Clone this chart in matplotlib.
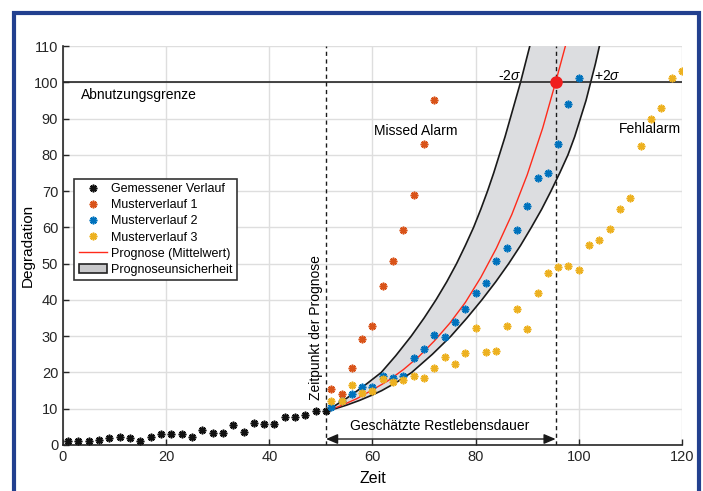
import matplotlib
matplotlib.use('Agg')
import matplotlib.pyplot as plt
from matplotlib.patches import Rectangle, Patch
from matplotlib.lines import Line2D

plt.rcParams['font.family'] = ['Liberation Sans', 'DejaVu Sans']
plt.rcParams['mathtext.fontset'] = 'custom'
plt.rcParams['mathtext.rm'] = 'Liberation Sans'
plt.rcParams['mathtext.it'] = 'Liberation Sans:italic'

# gemessener Verlauf
t_mess = [1, 3, 5, 7, 9, 11, 13, 15, 17, 19, 21, 23, 25, 27, 29, 31, 33, 35, 37, 39, 41, 43, 45, 47, 49, 51]
d_mess = [1.0, 1.0, 1.0, 1.4, 1.8, 2.1, 1.85, 1.1, 2.2, 3.0, 3.0, 2.9, 2.2, 4.0, 3.3, 3.3,
          5.6, 3.6, 6.1, 5.8, 5.8, 7.8, 7.7, 8.4, 9.3, 9.3]

# Musterverlaeufe
t_m1 = [52, 54, 56, 58, 60, 62, 64, 66, 68, 70, 72]
d_m1 = [15.5, 14.1, 21.3, 29.3, 32.8, 43.9, 50.6, 59.3, 68.8, 83.0, 95.0]

t_m2 = [52, 54, 56, 58, 60, 62, 64, 66, 68, 70, 72, 74, 76, 78, 80, 82, 84, 86, 88, 90,
        92, 94, 96, 98, 100]
d_m2 = [10.6, 12.2, 14.0, 15.9, 15.9, 19.0, 18.5, 19.0, 24.1, 26.4, 30.4, 29.8, 33.9, 37.5,
        42.0, 44.6, 50.7, 54.3, 59.4, 65.8, 73.6, 75.0, 83.1, 94.0, 101.3]

t_m3 = [52, 54, 56, 58, 60, 62, 64, 66, 68, 70, 72, 74, 76, 78, 80, 82, 84, 86, 88, 90,
        92, 94, 96, 98, 100, 102, 104, 106, 108, 110, 112, 114, 116, 118, 120]
d_m3 = [12.0, 12.2, 16.5, 14.3, 14.8, 18.2, 17.5, 17.8, 18.9, 18.4, 21.2, 24.3, 22.4, 25.5,
        32.3, 25.6, 25.8, 32.8, 37.6, 32.0, 41.9, 47.3, 49.1, 49.3, 48.3, 55.2, 56.4, 59.5,
        65.0, 68.2, 82.5, 89.8, 92.9, 101.3, 103.0]

# Prognose (Mittelwert)
t_prog = [51, 54, 57, 60, 63, 66, 69, 72, 75, 78, 81, 84, 87, 90, 93, 95.5, 97.4]
d_prog = [9.3, 10.9, 12.8, 15.2, 17.7, 20.8, 24.4, 28.7, 33.6, 39.3, 46.2, 54.2, 63.5, 74.5,
          87.4, 100, 110]

# Unsicherheitsband: -2 sigma (links/oben)
t_lo2s = [51, 53, 55, 57, 59, 61.7, 64.5, 67.5, 70.0, 72.3, 74.4, 76.3, 78.0, 79.6, 81.0,
          82.3, 83.5, 84.6, 85.7, 86.7, 87.7, 88.7, 89.6, 90.5]
d_lo2s = [9.3, 11.1, 12.9, 14.9, 17.0, 20, 24.6, 30, 35, 40, 45, 50, 55, 60, 65,
          70, 75, 80, 85, 90, 95, 100, 105, 110]
# +2 sigma (rechts/unten)
t_hi2s = [51, 53, 55, 57.5, 60, 61.8, 64.8, 67.6, 71.6, 75.2, 78.3, 81.2, 83.9, 86.4, 88.7,
          90.8, 92.8, 94.6, 96.3, 97.9, 99.2, 100.3, 101.4, 102.3, 103.2, 104.0]
d_hi2s = [9.3, 10.1, 11.0, 12.3, 13.8, 15, 17.4, 20, 25, 30, 35, 40, 45, 50, 55,
          60, 65, 70, 75, 80, 85, 90, 95, 100, 105, 110]

t_start = 51
t_eol = 95.5
grenze = 100

c_m1 = '#D95319'
c_m2 = '#0072BD'
c_m3 = '#EDB120'
ast = (8, 2, 0)
ms = 5.5
mew = 1.2

fig = plt.figure(figsize=(7.03, 4.91), dpi=100)
ax = fig.add_axes([0.0896, 0.0937, 0.8805, 0.8126])

# band
band_x = t_lo2s + t_hi2s[::-1]
band_y = d_lo2s + d_hi2s[::-1]
ax.fill(band_x, band_y, color='#dcdde0', lw=0, zorder=1)
ax.plot(t_lo2s, d_lo2s, color='#1a1a1a', lw=1.2, zorder=2)
ax.plot(t_hi2s, d_hi2s, color='#1a1a1a', lw=1.2, zorder=2)

ax.axhline(grenze, color='#262626', lw=1.2, zorder=2)
ax.plot([t_start, t_start], [0, 110], color='#1a1a1a', lw=1.0, ls=(0, (3, 2.5)), zorder=2)
ax.plot([t_eol, t_eol], [0, 110], color='#1a1a1a', lw=1.0, ls=(0, (3, 2.5)), zorder=2)

mk = dict(marker=ast, ls='none', ms=ms, mew=mew, zorder=4)
ax.plot(t_mess, d_mess, color='#111111', **mk)
ax.plot(t_m1, d_m1, color=c_m1, **mk)
ax.plot(t_m2, d_m2, color=c_m2, **mk)
ax.plot(t_m3, d_m3, color=c_m3, **mk)
ax.plot(t_prog, d_prog, color='#ff2a1a', lw=1.0, zorder=3)
ax.plot([t_eol], [grenze], 'o', color='#f01e1e', ms=8, zorder=5)

# Doppelpfeil Restlebensdauer
ax.annotate('', xy=(t_start, 1.65), xytext=(t_eol, 1.65),
            arrowprops=dict(arrowstyle='<|-|>,head_length=0.7,head_width=0.3',
                            color='#1a1a1a', lw=1.0, shrinkA=0, shrinkB=0,
                            mutation_scale=10))

fs = 10
ax.text(3.5, 96.6, 'Abnutzungsgrenze', fontsize=fs, va='center')
ax.text(68.4, 86.5, 'Missed Alarm', fontsize=fs, ha='center', va='center')
ax.text(113.8, 87.2, 'Fehlalarm', fontsize=fs, ha='center', va='center')
ax.text(88.8, 101.8, r'-2$\sigma$', fontsize=fs, ha='right', va='center')
ax.text(102.9, 101.8, r'+2$\sigma$', fontsize=fs, ha='left', va='center')
ax.text(73.0, 5.2, 'Geschätzte Restlebensdauer', fontsize=fs, ha='center', va='center')
ax.text(50.4, 32.5, 'Zeitpunkt der Prognose', fontsize=fs, rotation=90,
        ha='right', va='center')

ax.set_xlim(0, 120)
ax.set_ylim(0, 110)
ax.set_xticks(range(0, 121, 20))
ax.set_yticks(range(0, 111, 10))
ax.tick_params(direction='in', length=4, width=1, labelsize=10.5, colors='#262626')
ax.grid(True, color='#dedede', lw=1)
ax.set_axisbelow(True)
for s in ['top', 'right']:
    ax.spines[s].set_visible(False)
for s in ['left', 'bottom']:
    ax.spines[s].set_linewidth(1.2)
    ax.spines[s].set_color('#262626')
ax.set_xlabel('Zeit', fontsize=11.5, labelpad=5)
ax.set_ylabel('Degradation', fontsize=11, labelpad=-1)

handles = [
    Line2D([], [], color='#111111', marker=ast, ls='none', ms=ms, mew=mew),
    Line2D([], [], color=c_m1, marker=ast, ls='none', ms=ms, mew=mew),
    Line2D([], [], color=c_m2, marker=ast, ls='none', ms=ms, mew=mew),
    Line2D([], [], color=c_m3, marker=ast, ls='none', ms=ms, mew=mew),
    Line2D([], [], color='#ff2a1a', lw=1.0),
    Patch(facecolor='#c8c8ca', edgecolor='#222222', lw=1.2),
]
labels = ['Gemessener Verlauf', 'Musterverlauf 1', 'Musterverlauf 2', 'Musterverlauf 3',
          'Prognose (Mittelwert)', 'Prognoseunsicherheit']
leg = ax.legend(handles, labels, loc='upper left', bbox_to_anchor=(0.018, 0.667),
                borderaxespad=0, fontsize=9, fancybox=False, framealpha=1,
                edgecolor='#333333', handlelength=2.25, labelspacing=0.33,
                handletextpad=0.35, borderpad=0.35)
leg.get_frame().set_linewidth(1.2)
leg.set_zorder(6)

# blauer Rahmen
fig.add_artist(Rectangle((14 / 703, -0.1), 685 / 703, 1.1 - 13 / 491, fill=False,
                         edgecolor='#22408f', lw=3, transform=fig.transFigure,
                         clip_on=False))

fig.savefig('out.png', dpi=100)
